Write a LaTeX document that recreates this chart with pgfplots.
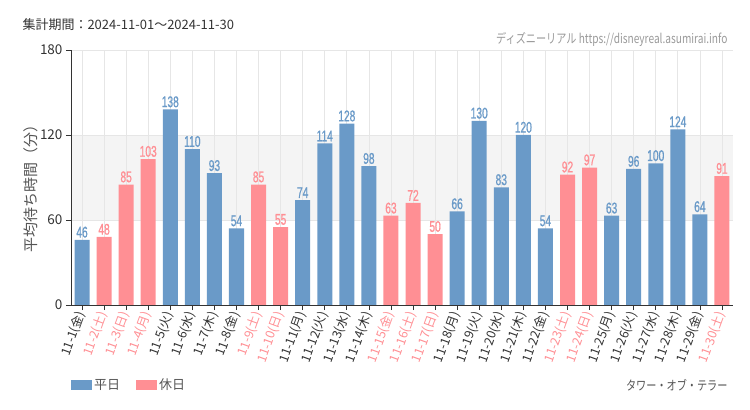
\documentclass[border=0pt]{standalone}
\usepackage{pgfplots}
\pgfplotsset{compat=1.18}
\usepackage{fontspec}
\setmainfont{Noto Sans CJK JP}
\newfontfamily\numfont[FakeStretch=0.66, FakeBold=0.8]{Liberation Sans}
\newfontfamily\condjp[FakeStretch=0.78]{Noto Sans CJK JP}
\definecolor{wd}{HTML}{6A9AC8}
\definecolor{hd}{HTML}{FF8F94}
\definecolor{txt}{HTML}{555555}
\definecolor{axc}{HTML}{333333}
\definecolor{gridc}{HTML}{E6E6E6}
\definecolor{band}{HTML}{F4F4F4}
\pgfplotsset{set layers}

% weekday / holiday tick label colours
\newcommand{\wk}[1]{\textcolor{axc}{#1}}
\newcommand{\hol}[1]{\textcolor{hd}{#1}}

\begin{document}
\begin{tikzpicture}
\begin{axis}[
    at={(0,0)}, anchor=south west,
    scale only axis, width=662bp, height=255bp,
    xmin=-0.5, xmax=29.5, ymin=0, ymax=180,
    ybar, bar width=0.68, bar shift=0pt,
    axis x line*=bottom, axis y line*=left,
    axis line style={axc, line width=1pt},
    major tick style={axc, line width=0.8pt},
    tick align=outside, major tick length=5bp,
    ytick={0,60,120,180},
    xtick={0,...,29},
    xticklabels={\wk{11-1(金)},\hol{11-2(土)},\hol{11-3(日)},\hol{11-4(月)},\wk{11-5(火)},\wk{11-6(水)},\wk{11-7(木)},\wk{11-8(金)},\hol{11-9(土)},\hol{11-10(日)},\wk{11-11(月)},\wk{11-12(火)},\wk{11-13(水)},\wk{11-14(木)},\hol{11-15(金)},\hol{11-16(土)},\hol{11-17(日)},\wk{11-18(月)},\wk{11-19(火)},\wk{11-20(水)},\wk{11-21(木)},\wk{11-22(金)},\hol{11-23(土)},\hol{11-24(日)},\wk{11-25(月)},\wk{11-26(火)},\wk{11-27(水)},\wk{11-28(木)},\wk{11-29(金)},\hol{11-30(土)}},
    xticklabel style={rotate=70, anchor=east, font=\fontsize{12.5bp}{12.5bp}\selectfont, inner sep=2bp},
    yticklabel style={font=\fontsize{13.5bp}{13.5bp}\selectfont, text=axc},
    /pgf/number format/assume math mode=true,
    grid=major, major grid style={gridc, line width=0.8pt},
    nodes near coords,
    every node near coord/.append style={font=\numfont\fontsize{15.5bp}{15.5bp}\selectfont, inner sep=2bp},
    legend columns=2,
    legend style={at={([yshift=-80bp]axis description cs:0,0)}, anchor=west, draw=none, fill=none,
        font=\fontsize{13bp}{13bp}\selectfont, text=txt, inner sep=0pt,
        /tikz/every even column/.append style={column sep=14bp}},
    legend image code/.code={\path[#1,draw=none] (0bp,-5bp) rectangle (21bp,5bp);},
]
\begin{pgfonlayer}{axis background}
\fill[band] (axis cs:-0.5,60) rectangle (axis cs:29.5,120);
\end{pgfonlayer}

\addplot[fill=wd, draw=none, every node near coord/.append style={text=wd}] coordinates {
(0,46)(4,138)(5,110)(6,93)(7,54)(10,74)(11,114)(12,128)(13,98)
(17,66)(18,130)(19,83)(20,120)(21,54)(24,63)(25,96)(26,100)(27,124)(28,64)
};
\addplot[fill=hd, draw=none, every node near coord/.append style={text=hd}] coordinates {
(1,48)(2,85)(3,103)(8,85)(9,55)(14,63)(15,72)(16,50)(22,92)(23,97)(29,91)
};
\legend{平日,休日}
\end{axis}

\node[anchor=west, text=axc, font=\fontsize{13bp}{13bp}\selectfont] at (-52bp,280bp) {集計期間：2024-11-01～2024-11-30};
\node[anchor=east, text=gray!80, font=\condjp\fontsize{13bp}{13bp}\selectfont] at (660bp,266bp) {ディズニーリアル https://disneyreal.asumirai.info};
\node[anchor=east, text=txt, font=\condjp\fontsize{13bp}{13bp}\selectfont] at (660bp,-80bp) {タワー・オブ・テラー};
\node[rotate=90, text=txt, font=\fontsize{15bp}{15bp}\selectfont] at (-40bp,120bp) {平均待ち時間（分）};
\pgfresetboundingbox
\path[use as bounding box] (-71bp,-105bp) rectangle (679bp,305bp);
\end{tikzpicture}
\end{document}
